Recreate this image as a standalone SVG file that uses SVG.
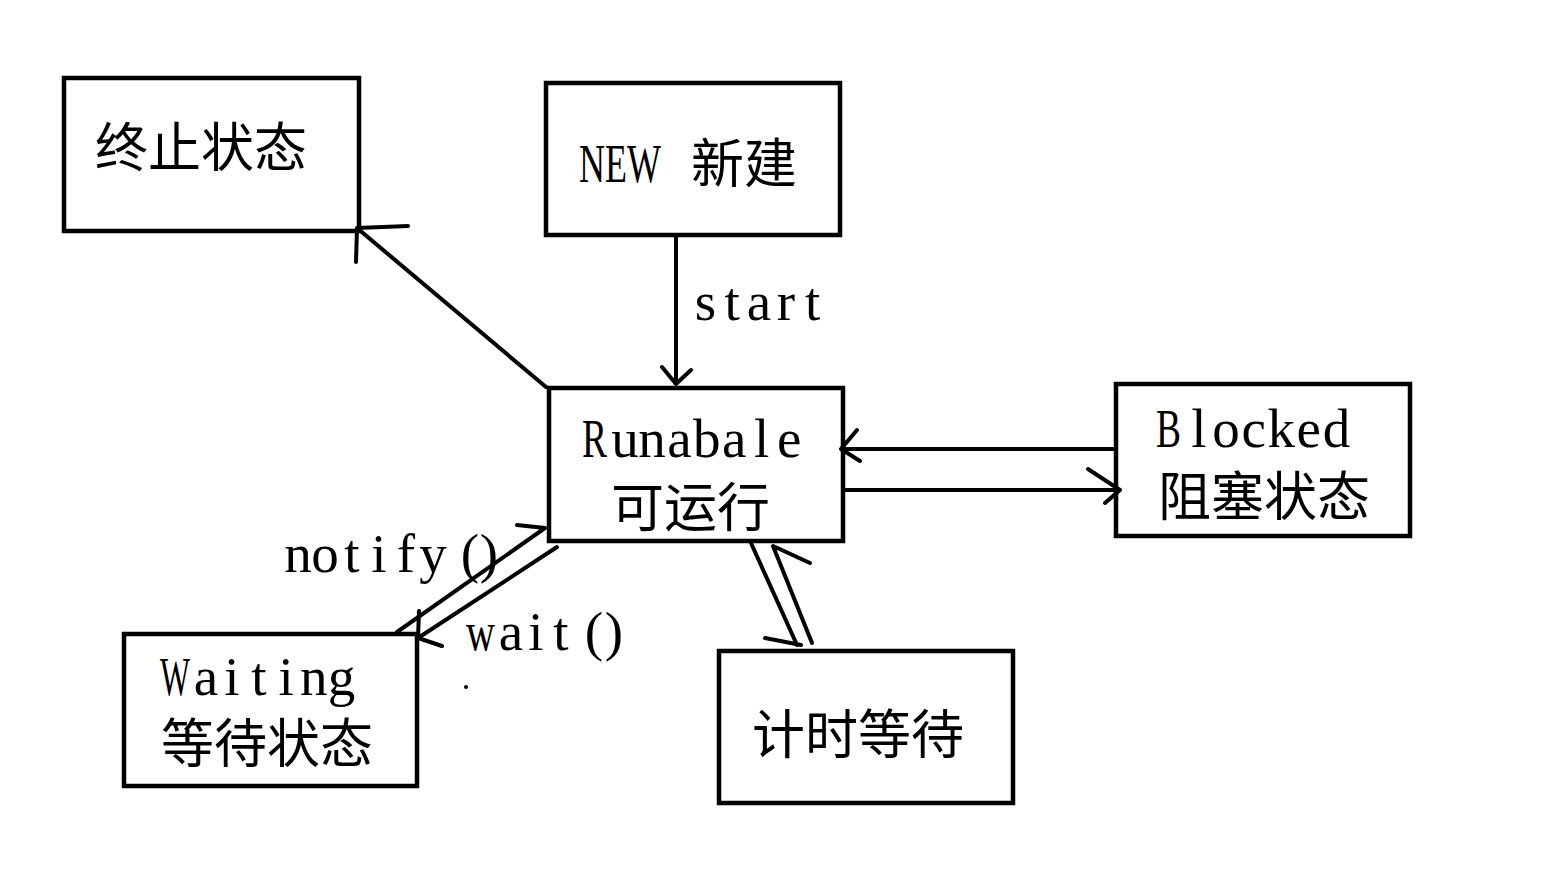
<svg xmlns="http://www.w3.org/2000/svg" width="1563" height="896" viewBox="0 0 1563 896">
<style>
.box{fill:none;stroke:#000;stroke-width:4.5}
.ln{fill:none;stroke:#000;stroke-width:4;stroke-linecap:round;stroke-linejoin:round}
.lat{font-family:"Liberation Serif","Noto Sans CJK SC",serif;font-size:55px;fill:#000}
.m{text-anchor:middle}
.cjk{font-family:"Noto Sans CJK SC","Noto Sans CJK JP",sans-serif;font-size:53px;fill:#000}
</style>
<rect width="1563" height="896" fill="#fff"/>
<g id="node-terminated">
<rect class="box" x="64" y="78" width="295" height="153"/>
<text class="cjk" x="95" y="167">终止状态</text>
</g>
<g id="node-new">
<rect class="box" x="546" y="83" width="294" height="152"/>
<text class="lat" x="579" y="182" textLength="82" lengthAdjust="spacingAndGlyphs">NEW</text>
<text class="cjk" x="691" y="183">新建</text>
</g>
<g id="node-runnable">
<rect class="box" x="549" y="388" width="294" height="153"/>
<text class="lat" y="457"><tspan x="582" textLength="25" lengthAdjust="spacingAndGlyphs">R</tspan><tspan class="m" x="625 652 679.5 706.75 734.25 761.75 789.25">unabale</tspan></text>
<text class="cjk" x="611" y="527">可运行</text>
</g>
<g id="node-blocked">
<rect class="box" x="1116" y="384" width="294" height="152"/>
<text class="lat" y="447"><tspan x="1156" textLength="25" lengthAdjust="spacingAndGlyphs">B</tspan><tspan class="m" x="1199 1226 1253.6 1281.2 1308.8 1336.4">locked</tspan></text>
<text class="cjk" x="1158" y="516">阻塞状态</text>
</g>
<g id="node-waiting">
<rect class="box" x="124" y="634" width="293" height="152"/>
<text class="lat" y="695"><tspan x="160" textLength="30" lengthAdjust="spacingAndGlyphs">W</tspan><tspan class="m" x="206 232 259 286.2 313.8 341.4">aiting</tspan></text>
<text class="cjk" x="161" y="763">等待状态</text>
</g>
<g id="node-timed-waiting">
<rect class="box" x="719" y="651" width="294" height="152"/>
<text class="cjk" x="752" y="754">计时等待</text>
</g>
<g id="connectors">
<path class="ln" d="M676 237 L676 384 M662 367 L676 384 L691 370"/>
<text class="lat m" x="705.4 732.2 759 785.8 812.6" y="320">start</text>
<path class="ln" d="M546 387 L357 228 M408 226 L357 228 L356 262"/>
<path class="ln" d="M1114 449 L841 449 M857 430 L841 449 L860 461"/>
<path class="ln" d="M845 490 L1120 490 M1088 469 L1120 490 L1105 503"/>
<path class="ln" d="M397 632 L545 528 M517 525 L545 528"/>
<text class="lat m" x="298 325 352 379 406 433 470 489" y="572">notify()</text>
<path class="ln" d="M557 547 L418 638 M419 611 L418 638 L442 646"/>
<text class="lat" y="650"><tspan x="466" textLength="29" lengthAdjust="spacingAndGlyphs">w</tspan><tspan class="m" x="511 536 561 594 614">ait()</tspan></text>
<circle cx="466" cy="687" r="2" fill="#000"/>
<path class="ln" d="M751 543 L797 645 M765 638 L801 645"/>
<path class="ln" d="M812 643 L773 546 L810 563"/>
</g>
</svg>
